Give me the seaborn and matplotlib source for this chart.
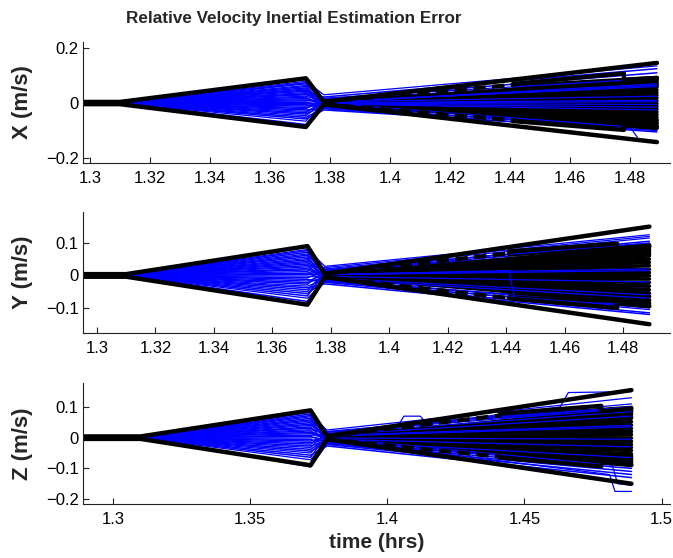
import matplotlib
matplotlib.use("Agg")
import pandas as pd
import matplotlib.pyplot as plt
import seaborn as sns

# time knots (hrs) shared by the Monte Carlo traces
TRACE_T = [1.288, 1.31, 1.372, 1.378, 1.489]
ENV_T = [1.288, 1.31, 1.372, 1.378, 1.489]
SIG_T = [1.378, 1.441]
STEP_T = [1.441, 1.441, 1.478, 1.478, 1.489]
FILL_T = [1.378, 1.489]
LATE_T = [1.441, 1.489]

# ---- X axis ----
x_peak = [0.079, 0.074, 0.070, 0.064, 0.060, 0.055, 0.051, 0.047, 0.043, 0.038, 0.034,
          0.030, 0.025, 0.021, 0.016, 0.012, 0.008, 0.003, -0.002, -0.006, -0.011, -0.016,
          -0.020, -0.025, -0.030, -0.035, -0.040, -0.046, -0.052, -0.058, -0.066, -0.078]
x_rejoin = [0.030, 0.012, 0.004, 0.018, -0.006, 0.008, 0.002, -0.010, 0.014, 0.000, -0.004,
            0.022, 0.006, -0.012, 0.003, -0.002, 0.010, -0.008, 0.001, -0.015, 0.005, -0.003,
            0.012, -0.020, -0.001, 0.007, -0.009, 0.004, -0.018, -0.025, 0.002, -0.006]
x_end = [0.135, 0.045, -0.030, 0.090, -0.060, 0.020, 0.070, -0.085, 0.110, 0.005, -0.040,
         0.125, 0.060, -0.075, 0.030, -0.015, 0.085, -0.055, 0.010, -0.095, 0.040, -0.025,
         0.080, -0.105, -0.005, 0.050, -0.065, 0.025, -0.090, -0.100, 0.065, -0.035]
x_jump_t = [[1.378, 1.480, 1.4825]]
x_jump_v = [[0.000, -0.087, -0.125]]
x_env_hi = [0.004, 0.004, 0.090, 0.005, 0.146]
x_env_lo = [-0.004, -0.004, -0.087, -0.005, -0.142]
x_sig_hi = [0.005, 0.066]
x_sig_lo = [-0.005, -0.062]
x_step_hi = [0.066, 0.070, 0.108, 0.085, 0.092]
x_step_lo = [-0.062, -0.066, -0.098, -0.080, -0.090]
x_fill_end = [0.088, 0.078, 0.068, 0.058, 0.048, 0.038, 0.028, 0.018, 0.008, -0.002, -0.012,
              -0.022, -0.032, -0.042, -0.052, -0.062, -0.072, -0.084]
x_late_start = [0.062, 0.048, 0.034, 0.020, -0.020, -0.034, -0.048, -0.060]
x_late_end = [0.092, 0.084, 0.074, 0.064, -0.062, -0.072, -0.082, -0.090]

# ---- Y axis ----
y_peak = [0.080, 0.076, 0.071, 0.066, 0.062, 0.057, 0.052, 0.048, 0.043, 0.039, 0.035,
          0.030, 0.026, 0.021, 0.017, 0.012, 0.007, 0.003, -0.002, -0.007, -0.012, -0.017,
          -0.022, -0.027, -0.033, -0.038, -0.044, -0.050, -0.056, -0.063, -0.070, -0.080]
y_rejoin = [0.028, 0.015, -0.004, 0.020, 0.008, -0.010, 0.003, 0.012, -0.006, 0.018, 0.001,
            -0.013, 0.024, 0.006, -0.002, -0.017, 0.009, 0.004, -0.008, 0.013, -0.021, 0.002,
            -0.005, 0.016, -0.011, -0.026, 0.007, -0.003, -0.015, 0.011, -0.019, -0.007]
y_end = [0.125, 0.105, -0.050, 0.115, 0.060, -0.080, 0.020, 0.085, -0.030, 0.100, 0.005,
         -0.095, 0.120, 0.045, -0.010, -0.105, 0.070, 0.030, -0.060, 0.095, -0.115, 0.015,
         -0.040, 0.080, -0.070, -0.120, 0.050, -0.020, -0.090, 0.065, -0.100, -0.045]
y_jump_t = [[1.378, 1.441, 1.443, 1.489]]
y_jump_v = [[0.002, 0.015, -0.077, -0.090]]
y_env_hi = [0.004, 0.004, 0.090, 0.005, 0.150]
y_env_lo = [-0.004, -0.004, -0.090, -0.005, -0.150]
y_sig_hi = [0.005, 0.068]
y_sig_lo = [-0.005, -0.070]
y_step_hi = [0.068, 0.074, 0.098, 0.080, 0.090]
y_step_lo = [-0.070, -0.071, -0.100, -0.085, -0.095]
y_fill_end = [0.090, 0.080, 0.070, 0.060, 0.050, 0.040, 0.030, 0.019, 0.009, -0.001, -0.011,
              -0.022, -0.033, -0.044, -0.055, -0.066, -0.077, -0.088]
y_late_start = [0.064, 0.050, 0.035, 0.020, -0.020, -0.036, -0.052, -0.066]
y_late_end = [0.094, 0.086, 0.076, 0.066, -0.064, -0.076, -0.086, -0.094]

# ---- Z axis ----
z_peak = [0.082, 0.077, 0.072, 0.068, 0.063, 0.058, 0.054, 0.049, 0.044, 0.040, 0.035,
          0.031, 0.026, 0.022, 0.017, 0.013, 0.008, 0.004, -0.001, -0.006, -0.011, -0.016,
          -0.021, -0.027, -0.032, -0.038, -0.044, -0.050, -0.057, -0.064, -0.072, -0.095]
z_rejoin = [0.020, 0.010, -0.006, 0.025, 0.004, -0.012, 0.014, 0.001, -0.004, 0.009, -0.018,
            0.006, 0.017, -0.008, 0.002, -0.001, 0.012, -0.014, 0.007, -0.022, 0.003, -0.005,
            0.011, -0.009, 0.019, -0.003, -0.016, 0.005, -0.027, 0.008, -0.011, -0.020]
z_end = [0.110, 0.060, -0.040, 0.130, 0.030, -0.075, 0.085, 0.010, -0.020, 0.070, -0.100,
         0.045, 0.095, -0.055, 0.015, -0.005, 0.075, -0.085, 0.040, -0.120, 0.020, -0.030,
         0.065, -0.060, 0.100, -0.015, -0.090, 0.035, -0.130, 0.050, -0.065, -0.110]
z_jump_t = [[1.378, 1.404, 1.406, 1.412, 1.414, 1.489],
            [1.378, 1.463, 1.466, 1.489],
            [1.378, 1.481, 1.483, 1.489],
            [1.378, 1.482, 1.484, 1.489]]
z_jump_v = [[0.010, 0.040, 0.070, 0.070, 0.050, 0.100],
            [0.005, 0.100, 0.147, 0.150],
            [-0.005, -0.120, -0.175, -0.175],
            [0.000, -0.090, -0.150, -0.155]]
z_env_hi = [0.004, 0.004, 0.089, 0.005, 0.155]
z_env_lo = [-0.004, -0.004, -0.090, -0.005, -0.150]
z_sig_hi = [0.005, 0.072]
z_sig_lo = [-0.005, -0.062]
z_step_hi = [0.072, 0.078, 0.104, 0.085, 0.095]
z_step_lo = [-0.062, -0.065, -0.094, -0.080, -0.090]
z_fill_end = [0.094, 0.084, 0.074, 0.063, 0.052, 0.041, 0.030, 0.020, 0.010, -0.001, -0.012,
              -0.022, -0.032, -0.042, -0.053, -0.064, -0.075, -0.086]
z_late_start = [0.068, 0.052, 0.036, 0.020, -0.018, -0.032, -0.046, -0.058]
z_late_end = [0.098, 0.088, 0.078, 0.066, -0.060, -0.070, -0.080, -0.088]

BLUE = "#0000ff"


def to_long(peak, rejoin, end, jump_t, jump_v):
    rows = []
    for i, (p, r, e) in enumerate(zip(peak, rejoin, end)):
        for t, v in zip(TRACE_T, [0.0, 0.0, p, r, e]):
            rows.append((i, t, v))
    for j, (ts, vs) in enumerate(zip(jump_t, jump_v)):
        for t, v in zip(ts, vs):
            rows.append((1000 + j, t, v))
    return pd.DataFrame(rows, columns=["run", "t", "v"])


def fmt(v):
    return f"{v:g}".replace("-", "\u2212")


panels = [
    dict(label="X (m/s)", rect=[0.1233, 0.7079, 0.872, 0.2168],
         xlim=(1.2977, 1.4933), ylim=(-0.218, 0.222),
         xticks=[1.30, 1.32, 1.34, 1.36, 1.38, 1.40, 1.42, 1.44, 1.46, 1.48],
         yticks=[-0.2, 0, 0.2],
         df=to_long(x_peak, x_rejoin, x_end, x_jump_t, x_jump_v),
         env=(x_env_hi, x_env_lo), sig=(x_sig_hi, x_sig_lo), step=(x_step_hi, x_step_lo),
         fill=x_fill_end, late=(x_late_start, x_late_end)),
    dict(label="Y (m/s)", rect=[0.1233, 0.4032, 0.872, 0.2169],
         xlim=(1.2952, 1.496), ylim=(-0.177, 0.195),
         xticks=[1.30, 1.32, 1.34, 1.36, 1.38, 1.40, 1.42, 1.44, 1.46, 1.48],
         yticks=[-0.1, 0, 0.1],
         df=to_long(y_peak, y_rejoin, y_end, y_jump_t, y_jump_v),
         env=(y_env_hi, y_env_lo), sig=(y_sig_hi, y_sig_lo), step=(y_step_hi, y_step_lo),
         fill=y_fill_end, late=(y_late_start, y_late_end)),
    dict(label="Z (m/s)", rect=[0.1233, 0.0968, 0.872, 0.2168],
         xlim=(1.289, 1.503), ylim=(-0.216, 0.178),
         xticks=[1.30, 1.35, 1.40, 1.45, 1.50],
         yticks=[-0.2, -0.1, 0, 0.1],
         df=to_long(z_peak, z_rejoin, z_end, z_jump_t, z_jump_v),
         env=(z_env_hi, z_env_lo), sig=(z_sig_hi, z_sig_lo), step=(z_step_hi, z_step_lo),
         fill=z_fill_end, late=(z_late_start, z_late_end)),
]

sns.set_style("ticks")
plt.rcParams["font.family"] = ["Liberation Sans", "DejaVu Sans"]

fig = plt.figure(figsize=(6.73, 5.58), dpi=100)

for p in panels:
    ax = fig.add_axes(p["rect"])
    df = p["df"]
    first = df[(df["run"] < 1000) & (df["run"] % 3 != 0)]
    last = df[(df["run"] >= 1000) | (df["run"] % 3 == 0)]

    # most Monte Carlo error traces go underneath the per-run sigma lines
    sns.lineplot(data=first, x="t", y="v", units="run", estimator=None, sort=False,
                 color=BLUE, lw=1.1, ax=ax, legend=False)

    # black filter-sigma lines from the individual runs
    for v_end in p["fill"]:
        ax.plot(FILL_T, [0.0, v_end], color="black", lw=2.6)
    for v0, v1 in zip(*p["late"]):
        ax.plot(LATE_T, [v0, v1], color="black", lw=2.8)

    # remaining traces drawn on top
    sns.lineplot(data=last, x="t", y="v", units="run", estimator=None, sort=False,
                 color=BLUE, lw=0.9, ax=ax, legend=False)

    # sigma envelopes
    for vals in p["sig"]:
        ax.plot(SIG_T, vals, color="black", lw=3, ls=(0, (3, 1.5)))
    for vals in p["step"]:
        ax.plot(STEP_T, vals, color="black", lw=3)
    for vals in p["env"]:
        ax.plot(ENV_T, vals, color="black", lw=3.2)

    ax.set_xlim(*p["xlim"])
    ax.set_ylim(*p["ylim"])
    ax.set_xticks(p["xticks"])
    ax.set_xticklabels([fmt(v) for v in p["xticks"]])
    ax.set_yticks(p["yticks"])
    ax.set_yticklabels([fmt(v) for v in p["yticks"]])
    ax.set_xlabel("")
    ax.set_ylabel("")
    sns.despine(ax=ax)
    for s in ("left", "bottom"):
        ax.spines[s].set_linewidth(0.8)
        ax.spines[s].set_color("#222222")
    ax.tick_params(direction="in", length=4, width=0.8, labelsize=12, colors="#222222",
                   labelcolor="black")
    ax.tick_params(axis="x", pad=6)
    ax.tick_params(axis="y", pad=3)

    cy = p["rect"][1] + p["rect"][3] / 2
    fig.text(23 / 673, cy, p["label"], rotation=90, ha="center", va="center",
             fontsize=16, fontweight="bold")

fig.text(294 / 673, 1 - 18 / 558, "Relative Velocity Inertial Estimation Error",
         ha="center", va="center", fontsize=12.3, fontweight="bold")
fig.text(377 / 673, 1 - 542 / 558, "time (hrs)", ha="center", va="center",
         fontsize=15, fontweight="bold")

fig.savefig("out.png", dpi=100)
